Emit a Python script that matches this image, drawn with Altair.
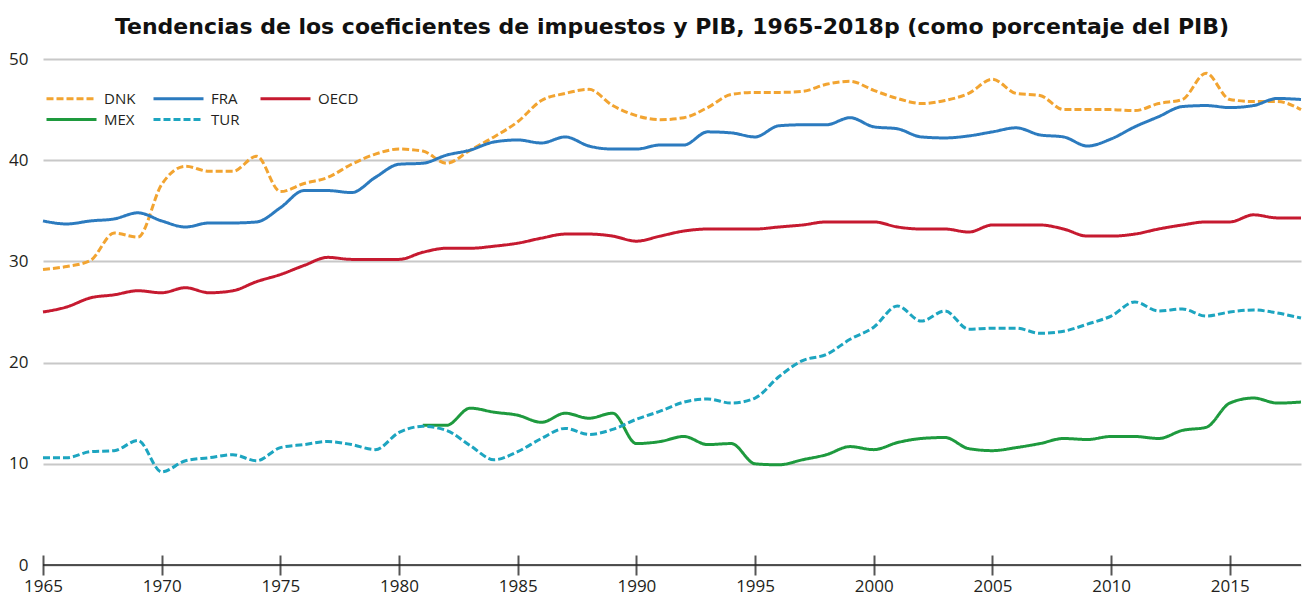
import altair as alt
import pandas as pd

years = list(range(1965, 2019))
dnk = [29.2, 29.5, 30.1, 32.8, 32.4, 37.6, 39.4, 38.9, 38.9, 40.4,
       36.9, 37.7, 38.3, 39.6, 40.6, 41.1, 40.9, 39.7, 41.0, 42.3,
       43.8, 45.9, 46.6, 47.0, 45.4, 44.4, 44.0, 44.2, 45.2, 46.5,
       46.7, 46.7, 46.8, 47.5, 47.8, 46.9, 46.1, 45.6, 45.9, 46.6,
       48.0, 46.6, 46.4, 45.0, 45.0, 45.0, 44.9, 45.6, 46.0, 48.6,
       46.0, 45.8, 45.8, 45.0]
fra = [34.0, 33.7, 34.0, 34.2, 34.8, 34.0, 33.4, 33.8, 33.8, 33.9,
       35.3, 37.0, 37.0, 36.8, 38.3, 39.6, 39.7, 40.5, 41.0, 41.8,
       42.0, 41.7, 42.3, 41.4, 41.1, 41.1, 41.5, 41.5, 42.8, 42.7,
       42.3, 43.4, 43.5, 43.5, 44.2, 43.3, 43.1, 42.3, 42.2, 42.4,
       42.8, 43.2, 42.5, 42.3, 41.4, 42.1, 43.3, 44.3, 45.3, 45.4,
       45.2, 45.4, 46.1, 46.0]
oecd = [25.0, 25.5, 26.4, 26.7, 27.1, 26.9, 27.4, 26.9, 27.1, 28.0,
        28.7, 29.6, 30.4, 30.2, 30.2, 30.2, 30.9, 31.3, 31.3, 31.5,
        31.8, 32.3, 32.7, 32.7, 32.5, 32.0, 32.5, 33.0, 33.2, 33.2,
        33.2, 33.4, 33.6, 33.9, 33.9, 33.9, 33.4, 33.2, 33.2, 32.9,
        33.6, 33.6, 33.6, 33.2, 32.5, 32.5, 32.7, 33.2, 33.6, 33.9,
        33.9, 34.6, 34.3, 34.3]
tur = [10.6, 10.6, 11.2, 11.3, 12.3, 9.2, 10.3, 10.6, 10.9, 10.3,
       11.6, 11.9, 12.2, 11.9, 11.4, 13.1, 13.7, 13.3, 11.8, 10.4,
       11.2, 12.5, 13.5, 12.9, 13.4, 14.4, 15.2, 16.1, 16.4, 16.0,
       16.5, 18.6, 20.2, 20.8, 22.3, 23.5, 25.6, 24.1, 25.1, 23.3,
       23.4, 23.4, 22.9, 23.1, 23.8, 24.6, 26.0, 25.1, 25.3, 24.6,
       25.0, 25.2, 24.9, 24.4]
mex_years = list(range(1981, 2019))
mex = [13.8, 13.8, 15.5, 15.1, 14.8, 14.1, 15.0, 14.5, 15.0, 12.0,
       12.2, 12.7, 11.9, 12.0, 10.0, 9.9, 10.4, 10.9, 11.7, 11.4,
       12.1, 12.5, 12.6, 11.5, 11.3, 11.6, 12.0, 12.5, 12.4, 12.7,
       12.7, 12.5, 13.3, 13.6, 16.0, 16.5, 16.0, 16.1]

series_order = ["DNK", "FRA", "OECD", "MEX", "TUR"]
series_colors = ["#F2A431", "#2C7BBF", "#C61A30", "#1E9A3E", "#1DA5C0"]
series_dash = [[7, 3], [1, 0], [1, 0], [1, 0], [7, 3]]
x_ticks = [1965, 1970, 1975, 1980, 1985, 1990, 1995, 2000, 2005, 2010, 2015]
y_ticks = [0, 10, 20, 30, 40, 50]
title_text = "Tendencias de los coeficientes de impuestos y PIB, 1965-2018p (como porcentaje del PIB)"

rows = []
for name, ys, vals in [("DNK", years, dnk), ("FRA", years, fra), ("OECD", years, oecd),
                       ("MEX", mex_years, mex), ("TUR", years, tur)]:
    for yr, v in zip(ys, vals):
        rows.append({"year": yr, "value": v, "series": name})
df = pd.DataFrame(rows)
zero_df = pd.DataFrame({"value": [0]})

lab_font = "Open Sans"
lab_color = "#231f20"

x_enc = alt.X("year:Q",
              scale=alt.Scale(domain=[1965, 2018], nice=False, zero=False),
              axis=alt.Axis(values=x_ticks, format="d", title=None, grid=False,
                            domain=False, tickSize=20, offset=-10, tickColor="#555555",
                            tickWidth=2, labelPadding=3, labelFont=lab_font,
                            labelFontSize=17, labelColor=lab_color, labelFlush=False))
y_enc = alt.Y("value:Q",
              scale=alt.Scale(domain=[0, 50], nice=False),
              axis=alt.Axis(values=y_ticks, title=None, domain=False, ticks=False,
                            grid=True, gridColor="#c8c8c8", gridWidth=2,
                            labelPadding=15, labelFont=lab_font, labelFontSize=17,
                            labelColor=lab_color))

lines = alt.Chart(df).mark_line(strokeWidth=3, interpolate="monotone").encode(
    x=x_enc,
    y=y_enc,
    color=alt.Color("series:N",
                    scale=alt.Scale(domain=series_order, range=series_colors),
                    legend=alt.Legend(title=None, orient="none", legendX=1, legendY=32,
                                      direction="horizontal",
                                      columns=3, symbolType="M-1,0H9", symbolSize=100,
                                      symbolStrokeWidth=3, labelFont=lab_font,
                                      labelFontSize=15, labelColor=lab_color,
                                      labelOffset=45, columnPadding=2, rowPadding=5,
                                      gridAlign="all", padding=0)),
    strokeDash=alt.StrokeDash("series:N",
                              scale=alt.Scale(domain=series_order, range=series_dash)),
)

zero_line = alt.Chart(zero_df).mark_rule(color="#222222", strokeWidth=1.5).encode(
    y=alt.Y("value:Q")
)

chart = alt.layer(lines, zero_line).properties(
    width=1258,
    height=506,
    padding={"left": 0, "top": 8, "right": 0, "bottom": 3},
    title=alt.TitleParams(text=title_text, font="DejaVu Sans", fontSize=22,
                          fontWeight="bold", color="#111111", anchor="middle",
                          frame="group", offset=11),
).configure_view(stroke=None)

chart.save("out.html", embed_options={"renderer": "svg", "actions": False})
